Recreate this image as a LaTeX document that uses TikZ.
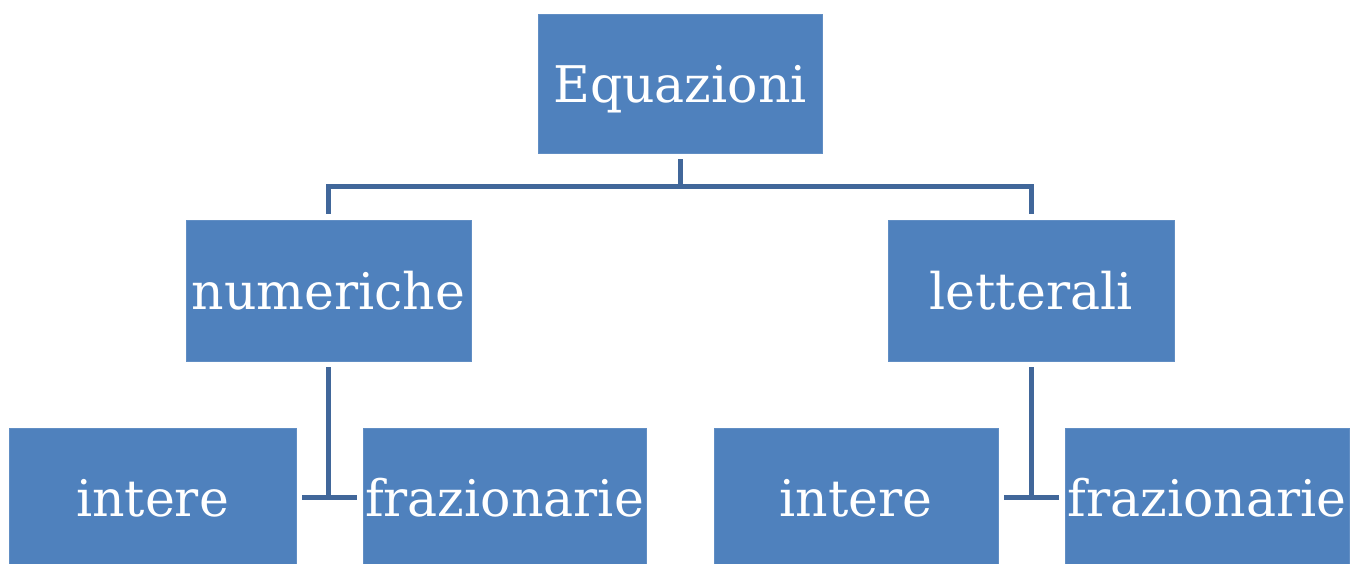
\documentclass[tikz,border=0pt]{standalone}
\usepackage{fontspec}
\setmainfont{DejaVu Serif}
\definecolor{boxblue}{RGB}{79,129,189}
\definecolor{lineblue}{RGB}{65,103,154}
\begin{document}
\begin{tikzpicture}[x=1pt,y=-1pt,
  box/.style={rectangle, fill=boxblue, draw=boxblue!90!white, line width=0.6pt,
    minimum width=284pt, minimum height=139pt, inner sep=0pt,
    text=white, font=\fontsize{50.5}{50.5}\selectfont, text height=38pt, text depth=0pt},
  wire/.style={draw=lineblue, line width=5pt},
  conn/.style={wire, shorten <=6pt, shorten >=6pt}]
\clip (0,0) rectangle (1355,563);
\useasboundingbox (0,0) rectangle (1355,563);
\node[box] (eq) at (680,83.5) {Equazioni};
\node[box, minimum height=141pt, minimum width=285pt] (num) at (328.5,290.5) {numeriche};
\node[box, minimum height=141pt, minimum width=286pt] (let) at (1031,290.5) {letterali};
\node[box, minimum width=287pt] (int1) at (152.5,497.5) {intere};
\node[box, minimum width=283pt] (fra1) at (504.5,497.5) {frazionarie};
\node[box] (int2) at (856,497.5) {intere};
\node[box] (fra2) at (1207,497.5) {frazionarie};
\coordinate (bus) at (680,186);
\draw[wire, shorten <=6pt] (eq.south) -- (bus);
\draw[conn] (num.north) |- (bus) -| (let.north);
\draw[wire, shorten <=6pt] (num.south) -- (num.south |- int1.east);
\draw[conn] (int1.east) -- (fra1.west);
\draw[wire, shorten <=6pt] (let.south) -- (let.south |- int2.east);
\draw[conn] (int2.east) -- (fra2.west);
\end{tikzpicture}
\end{document}
